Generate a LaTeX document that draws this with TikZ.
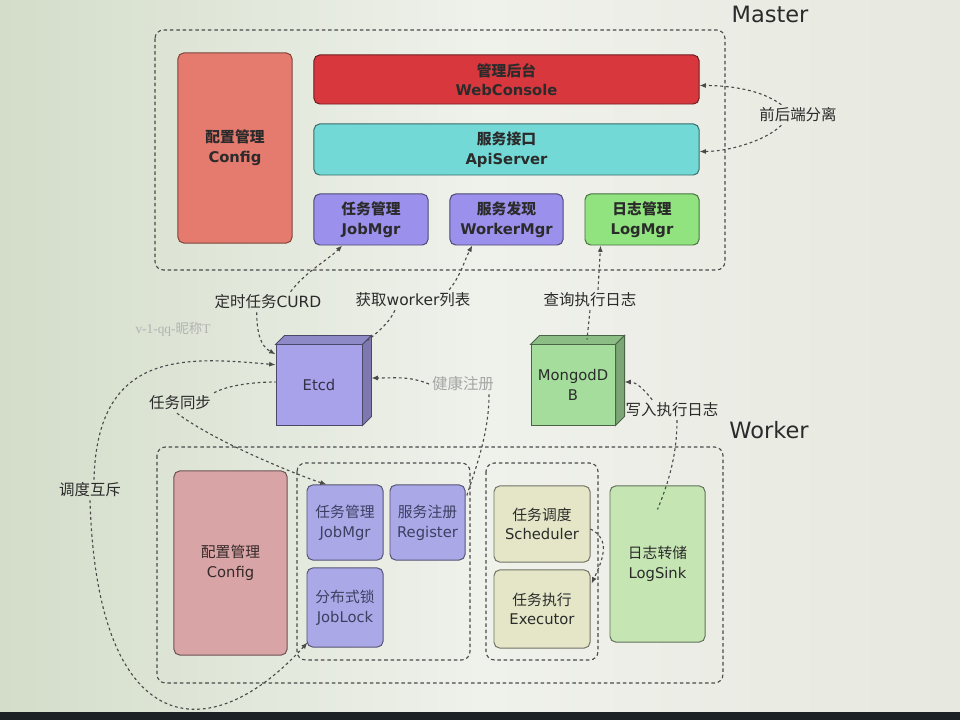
\documentclass[tikz,border=0pt]{standalone}
\usepackage{fontspec}
\setmainfont{DejaVu Sans}
\newfontfamily\cjk{Noto Sans CJK SC}
\newfontfamily\wmfont{Liberation Serif}
\newcommand{\zh}[1]{{\cjk #1}}
\usetikzlibrary{calc,arrows.meta}

\definecolor{bgleft}{HTML}{D3DDC9}
\definecolor{bgmid}{HTML}{EFF1EB}
\definecolor{bgright}{HTML}{E7E8DF}
\definecolor{bgbar}{HTML}{1C2126}
\definecolor{txtdark}{HTML}{2B2B2B}
\definecolor{txtworker}{HTML}{3C4060}
\definecolor{linegray}{HTML}{4A4A4A}
\definecolor{cfgred}{HTML}{E57A6E}
\definecolor{webred}{HTML}{D8383D}
\definecolor{apicyan}{HTML}{72D9D6}
\definecolor{mpurple}{HTML}{9B90EC}
\definecolor{mgreen}{HTML}{90E37E}
\definecolor{cfgpink}{HTML}{D8A4A6}
\definecolor{wpurple}{HTML}{ABA8E8}
\definecolor{wyellow}{HTML}{E4E6C7}
\definecolor{wgreen}{HTML}{C5E5B3}
\definecolor{etcdc}{HTML}{A7A2EA}
\definecolor{mongoc}{HTML}{A5DE9C}

\tikzset{
  mbox/.style={rounded corners=4pt, line width=0.7pt, align=center, text=txtdark,
    font=\fontsize{10.5}{14}\selectfont, inner sep=1pt},
  mbold/.style={mbox, font=\fontsize{10.5}{14}\selectfont\bfseries},
  wbox/.style={mbox, text=txtworker},
  grpframe/.style={draw=linegray, line width=0.8pt, dash pattern=on 2.5pt off 2pt, rounded corners=6pt},
  dashlink/.style={draw=linegray, line width=0.8pt, dash pattern=on 2pt off 2pt},
  arrowend/.style={-{Latex[length=4.5pt,width=3.6pt]}},
  lbl/.style={font=\fontsize{11}{13}\selectfont, text=txtdark, inner sep=2pt},
  heading/.style={font=\fontsize{16}{18}\selectfont, text=txtdark},
}

\begin{document}
\begin{tikzpicture}[x=0.025cm, y=-0.025cm]
\useasboundingbox (0,0) rectangle (960,720);
% photo background
\shade[left color=bgleft, right color=bgright, middle color=bgmid] (0,0) rectangle (960,712);
\fill[bgbar] (0,712) rectangle (960,720);

% ---- Master ----
\node[heading] (mastertitle) at (770,14) {Master};
\draw[grpframe] (155,30) rectangle (725,270);
\node[mbold, fill=cfgred, draw=cfgred!55!black, minimum width=2.85cm, minimum height=4.75cm] (mcfg) at (235,148) {\zh{配置管理}\\Config};
\node[mbold, fill=webred, draw=webred!50!black, minimum width=9.625cm, minimum height=1.225cm] (web) at (506.5,79.5) {\zh{管理后台}\\WebConsole};
\node[mbold, fill=apicyan, draw=apicyan!50!black, minimum width=9.625cm, minimum height=1.275cm] (api) at (506.5,149.5) {\zh{服务接口}\\ApiServer};
\node[mbold, fill=mpurple, draw=mpurple!50!black, minimum width=2.85cm, minimum height=1.275cm] (mjob) at (371,219.5) {\zh{任务管理}\\JobMgr};
\node[mbold, fill=mpurple, draw=mpurple!50!black, minimum width=2.825cm, minimum height=1.275cm] (wmgr) at (506.5,219.5) {\zh{服务发现}\\WorkerMgr};
\node[mbold, fill=mgreen, draw=mgreen!50!black, minimum width=2.85cm, minimum height=1.275cm] (lmgr) at (642,219.5) {\zh{日志管理}\\LogMgr};
\node[lbl] (lsplit) at (798,115) {\zh{前后端分离}};

% ---- storage ----
\node[mbox, rounded corners=0pt, fill=etcdc, draw=etcdc!45!black, text=etcdc!30!black, minimum width=2.15cm, minimum height=2cm] (etcd) at (319,385) {Etcd};
\filldraw[fill=etcdc!85!black, draw=etcdc!45!black, line width=0.7pt] (etcd.north west) -- ++(9,-9) -- ($(etcd.north east)+(9,-9)$) -- (etcd.north east) -- cycle;
\filldraw[fill=etcdc!75!black, draw=etcdc!45!black, line width=0.7pt] (etcd.north east) -- ++(9,-9) -- ($(etcd.south east)+(9,-9)$) -- (etcd.south east) -- cycle;
\node[mbox, rounded corners=0pt, fill=mongoc, draw=mongoc!45!black, minimum width=2.1cm, minimum height=2cm] (mongo) at (573,385) {MongodD\\B};
\filldraw[fill=mongoc!85!black, draw=mongoc!45!black, line width=0.7pt] (mongo.north west) -- ++(9,-9) -- ($(mongo.north east)+(9,-9)$) -- (mongo.north east) -- cycle;
\filldraw[fill=mongoc!75!black, draw=mongoc!45!black, line width=0.7pt] (mongo.north east) -- ++(9,-9) -- ($(mongo.south east)+(9,-9)$) -- (mongo.south east) -- cycle;

\node[lbl] (lcurd) at (268,302) {\zh{定时任务}CURD};
\node[lbl] (lworker) at (413,300) {\zh{获取}worker\zh{列表}};
\node[lbl] (llog) at (590,300) {\zh{查询执行日志}};
\node[font=\wmfont\fontsize{9.5}{11}\selectfont, text=black!30] (wmark) at (173,329) {v-1-qq-\zh{昵称}T};
\node[lbl, text=black!35] (lhealth) at (463,384) {\zh{健康注册}};
\node[lbl] (lsync) at (180,403) {\zh{任务同步}};
\node[lbl] (lwrite) at (672,410) {\zh{写入执行日志}};
\node[lbl] (lmutex) at (90,490) {\zh{调度互斥}};

% ---- Worker ----
\node[heading] (workertitle) at (769,430) {Worker};
\draw[grpframe] (157,447) rectangle (723,683);
\draw[grpframe] (297,463) rectangle (470,660);
\draw[grpframe] (486,463) rectangle (598,660);
\node[wbox, fill=cfgpink, draw=cfgpink!50!black, text=cfgpink!25!black, minimum width=2.825cm, minimum height=4.6cm] (wcfg) at (230.5,563) {\zh{配置管理}\\Config};
\node[wbox, fill=wpurple, draw=wpurple!50!black, minimum width=1.9cm, minimum height=1.875cm] (wjob) at (345,522.5) {\zh{任务管理}\\JobMgr};
\node[wbox, fill=wpurple, draw=wpurple!50!black, minimum width=1.875cm, minimum height=1.875cm] (reg) at (427.5,522.5) {\zh{服务注册}\\Register};
\node[wbox, fill=wpurple, draw=wpurple!50!black, minimum width=1.9cm, minimum height=1.975cm] (lock) at (345,607.5) {\zh{分布式锁}\\JobLock};
\node[wbox, fill=wyellow, draw=wyellow!50!black, text=txtdark, minimum width=2.4cm, minimum height=1.9cm] (sched) at (542,524) {\zh{任务调度}\\Scheduler};
\node[wbox, fill=wyellow, draw=wyellow!50!black, text=txtdark, minimum width=2.4cm, minimum height=1.95cm] (exec) at (542,609) {\zh{任务执行}\\Executor};
\node[wbox, fill=wgreen, draw=wgreen!50!black, text=txtdark, minimum width=2.375cm, minimum height=3.9cm] (sink) at (657.5,564) {\zh{日志转储}\\LogSink};

% ---- connectors ----
\draw[dashlink, arrowend] ($(lsplit.north west)!0.3!(lsplit.north east)$) .. controls +(-20,-15) and +(30,0) .. ($(web.east)+(0,6)$);
\draw[dashlink, arrowend] ($(lsplit.south west)!0.3!(lsplit.south east)$) .. controls +(-15,15) and +(30,0) .. ($(api.east)+(0,2)$);

\draw[dashlink, arrowend] ($(lcurd.north west)!0.7!(lcurd.north east)$) .. controls +(15,-20) and +(-15,15) .. ($(mjob.south west)!0.25!(mjob.south east)$);
\draw[dashlink, arrowend] ($(lcurd.south west)!0.4!(lcurd.south east)$) .. controls +(0,20) and +(-15,-8) .. ($(etcd.north west)!0.12!(etcd.south west)$);

\draw[dashlink, arrowend] ($(lworker.north west)!0.8!(lworker.north east)$) .. controls +(12,-15) and +(-8,15) .. ($(wmgr.south west)!0.2!(wmgr.south east)$);
\draw[dashlink] ($(lworker.south west)!0.35!(lworker.south east)$) .. controls +(-5,12) and +(10,-8) .. ($(etcd.north east)+(5,-4)$);

\draw[dashlink, arrowend] ($(llog.north)+(8,0)$) -- ($(lmgr.south west)!0.14!(lmgr.south east)$);
\draw[dashlink] (llog.south) -- ($(mongo.north)+(14,-5)$);

\draw[dashlink, arrowend] (lhealth.west) .. controls +(-20,-8) and +(25,0) .. ($(etcd.east)+(9,-7)$);
\draw[dashlink] ($(lhealth.south east)+(-8,0)$) .. controls +(0,40) and +(8,-25) .. ($(reg.north east)+(1,12)$);

\draw[dashlink, arrowend] ($(lwrite.north west)!0.3!(lwrite.north east)$) .. controls +(-8,-10) and +(12,0) .. ($(mongo.east)+(9,-3)$);
\draw[dashlink] ($(lwrite.south)+(5,0)$) .. controls +(0,40) and +(8,-20) .. ($(sink.north)+(0,24)$);

\draw[dashlink] (lsync.north east) .. controls +(15,-8) and +(-20,0) .. ($(etcd.west)+(0,-3)$);
\draw[dashlink, arrowend] ($(lsync.south)+(-3,0)$) .. controls +(40,30) and +(-25,-8) .. ($(wjob.north west)!0.26!(wjob.north east)$);

\draw[dashlink, arrowend] ($(lmutex.north)+(4,0)$) .. controls +(3,-130) and +(-90,-8) .. ($(etcd.north west)!0.25!(etcd.south west)$);
\draw[dashlink, arrowend] (lmutex.south) .. controls +(7,240) and +(-98,108) .. ($(lock.south west)+(1,-5)$);

\draw[dashlink, arrowend] ($(sched.east)+(0,5)$) .. controls +(20,10) and +(12,-25) .. ($(exec.north east)+(1,14)$);
\end{tikzpicture}
\end{document}
